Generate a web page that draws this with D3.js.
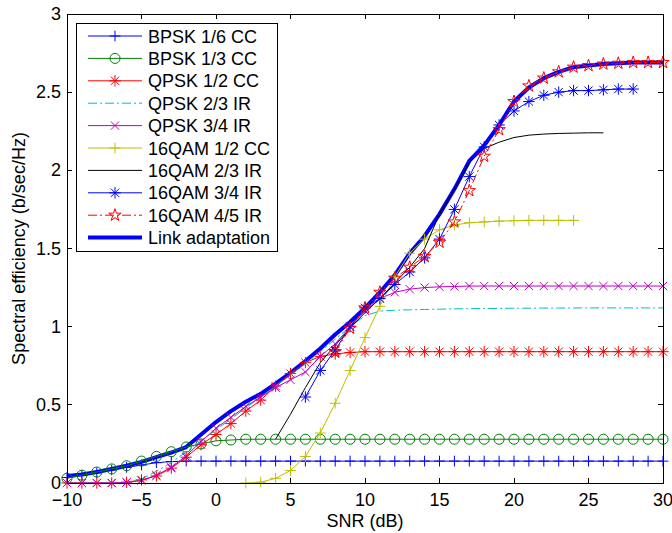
<!DOCTYPE html>
<html>
<head>
<meta charset="utf-8">
<script src="https://cdn.jsdelivr.net/npm/d3@7"></script>
<style>
  body { margin: 0; background: #fff; }
  text { font-family: "Liberation Sans", Arial, sans-serif; }
</style>
</head>
<body>
<div id="chart"></div>
<script>
// SNR grids
const snrAll = [-10,-9,-8,-7,-6,-5,-4,-3,-2,-1,0,1,2,3,4,5,6,7,8,9,10,11,12,13,14,15,16,17,18,19,20,21,22,23,24,25,26,27,28,29,30];
const snrQam12 = [2,3,4,5,6,7,8,9,10,11,12,13,14,15,16,17,18,19,20,21,22,23,24];
const snrQam23 = [4,5,6,7,8,9,10,11,12,13,14,15,16,17,18,19,20,21,22,23,24,25,26];
const snrQam34 = [6,7,8,9,10,11,12,13,14,15,16,17,18,19,20,21,22,23,24,25,26,27,28];
const snrQam45 = [8,9,10,11,12,13,14,15,16,17,18,19,20,21,22,23,24,25,26,27,28,29,30];

// spectral efficiency (b/sec/Hz)
const bpsk16 = [0.035,0.05,0.065,0.083,0.1,0.115,0.13,0.137,0.14,0.14,0.14,0.14,0.14,0.14,0.14,0.14,0.14,0.14,0.14,0.14,0.14,0.14,0.14,0.14,0.14,0.14,0.14,0.14,0.14,0.14,0.14,0.14,0.14,0.14,0.14,0.14,0.14,0.14,0.14,0.14,0.14];
const bpsk13 = [0.03,0.05,0.07,0.09,0.11,0.14,0.17,0.2,0.23,0.25,0.27,0.275,0.28,0.28,0.28,0.28,0.28,0.28,0.28,0.28,0.28,0.28,0.28,0.28,0.28,0.28,0.28,0.28,0.28,0.28,0.28,0.28,0.28,0.28,0.28,0.28,0.28,0.28,0.28,0.28,0.28];
const qpsk12 = [0,0,0,0,0.005,0.02,0.045,0.095,0.165,0.245,0.31,0.38,0.46,0.53,0.62,0.7,0.77,0.81,0.825,0.835,0.84,0.84,0.84,0.84,0.84,0.84,0.84,0.84,0.84,0.84,0.84,0.84,0.84,0.84,0.84,0.84,0.84,0.84,0.84,0.84,0.84];
const qpsk23 = [0,0,0,0,0.005,0.025,0.075,0.13,0.2,0.27,0.34,0.41,0.48,0.55,0.62,0.69,0.76,0.84,0.92,1.0,1.07,1.1,1.105,1.108,1.11,1.112,1.114,1.115,1.116,1.117,1.118,1.118,1.119,1.119,1.12,1.12,1.12,1.12,1.12,1.12,1.12];
const qpsk34 = [0,0,0,0,0.003,0.015,0.05,0.1,0.175,0.265,0.35,0.42,0.49,0.55,0.61,0.66,0.71,0.81,0.89,1.0,1.1,1.18,1.22,1.24,1.25,1.255,1.257,1.26,1.26,1.26,1.26,1.26,1.26,1.26,1.26,1.26,1.26,1.26,1.26,1.26,1.26];
const qam12 = [0,0.005,0.03,0.08,0.17,0.32,0.51,0.72,0.93,1.13,1.32,1.47,1.56,1.62,1.65,1.665,1.67,1.675,1.678,1.68,1.68,1.68,1.68];
const qam23 = [0.28,0.44,0.61,0.77,0.88,0.99,1.09,1.18,1.28,1.38,1.5,1.72,1.88,2.05,2.14,2.18,2.21,2.225,2.232,2.236,2.238,2.24,2.24];
const qam34 = [0.55,0.72,0.85,1.0,1.12,1.18,1.27,1.35,1.44,1.56,1.75,1.96,2.15,2.29,2.38,2.44,2.48,2.5,2.51,2.51,2.515,2.52,2.52];
const qam45 = [0.84,0.99,1.12,1.22,1.31,1.38,1.45,1.54,1.67,1.87,2.09,2.26,2.44,2.54,2.59,2.63,2.66,2.67,2.68,2.685,2.69,2.69,2.69];
const linkAdapt = [0.045,0.055,0.07,0.09,0.11,0.135,0.165,0.195,0.23,0.31,0.39,0.46,0.52,0.57,0.635,0.705,0.78,0.86,0.95,1.03,1.12,1.22,1.33,1.47,1.58,1.72,1.88,2.06,2.16,2.29,2.44,2.53,2.59,2.63,2.66,2.67,2.68,2.685,2.69,2.69,2.69];

const xTicks = [-10,-5,0,5,10,15,20,25,30];
const yTicks = [0,0.5,1,1.5,2,2.5,3];

// 8-armed MATLAB style asterisk
const symbolStar8 = {
  draw(ctx, size) {
    const r = Math.sqrt(size) / 2;
    const d = r * 0.72;
    ctx.moveTo(0, -r); ctx.lineTo(0, r);
    ctx.moveTo(-r, 0); ctx.lineTo(r, 0);
    ctx.moveTo(-d, -d); ctx.lineTo(d, d);
    ctx.moveTo(-d, d); ctx.lineTo(d, -d);
  }
};

const series = [
  { name: "BPSK 1/6 CC", x: snrAll, y: bpsk16, color: "#0000ff", marker: d3.symbolPlus, size: 40 },
  { name: "BPSK 1/3 CC", x: snrAll, y: bpsk13, color: "#008000", marker: d3.symbolCircle, size: 80 },
  { name: "QPSK 1/2 CC", x: snrAll, y: qpsk12, color: "#ff0000", marker: symbolStar8, size: 130 },
  { name: "QPSK 2/3 IR", x: snrAll, y: qpsk23, color: "#00bfbf", dash: "9,3,2,3" },
  { name: "QPSK 3/4 IR", x: snrAll, y: qpsk34, color: "#bf00bf", marker: d3.symbolTimes, size: 46 },
  { name: "16QAM 1/2 CC", x: snrQam12, y: qam12, color: "#bfbf00", marker: d3.symbolPlus, size: 40 },
  { name: "16QAM 2/3 IR", x: snrQam23, y: qam23, color: "#000000" },
  { name: "16QAM 3/4 IR", x: snrQam34, y: qam34, color: "#0000ff", marker: symbolStar8, size: 130 },
  { name: "16QAM 4/5 IR", x: snrQam45, y: qam45, color: "#ff0000", marker: d3.symbolStar, size: 48, dash: "9,3,2,3" },
  { name: "Link adaptation", x: snrAll, y: linkAdapt, color: "#0000ff", width: 4 }
];

const width = 672, height = 533;
const margin = { top: 14, right: 9, bottom: 50, left: 67 };
const fontSize = "18px";

const svg = d3.select("#chart").append("svg")
  .attr("width", width)
  .attr("height", height);

const x = d3.scaleLinear().domain([-10, 30]).range([margin.left, width - margin.right]);
const y = d3.scaleLinear().domain([0, 3]).range([height - margin.bottom, margin.top]);

svg.append("clipPath").attr("id", "plotclip")
  .append("rect")
  .attr("x", margin.left - 8).attr("y", margin.top - 8)
  .attr("width", width - margin.left - margin.right + 16)
  .attr("height", height - margin.top - margin.bottom + 16);

const plot = svg.append("g").attr("clip-path", "url(#plotclip)");

const line = d3.line().x(d => x(d[0])).y(d => y(d[1]));

// link adaptation sits underneath the other curves
const order = [9, 0, 1, 2, 3, 4, 5, 6, 7, 8];
order.forEach(k => {
  const s = series[k];
  const pts = s.x.map((v, i) => [v, s.y[i]]);
  plot.append("path")
    .datum(pts)
    .attr("d", line)
    .attr("fill", "none")
    .attr("stroke", s.color)
    .attr("stroke-width", s.width || 1)
    .attr("stroke-dasharray", s.dash || null)
    .attr("stroke-linejoin", "round");
  if (s.marker) {
    plot.append("g").selectAll("path")
      .data(pts)
      .enter().append("path")
      .attr("transform", d => `translate(${x(d[0])},${y(d[1])})`)
      .attr("d", d3.symbol().type(s.marker).size(s.size))
      .attr("fill", "none")
      .attr("stroke", s.color)
      .attr("stroke-width", 1);
  }
});

// axes box with inward ticks
const axes = svg.append("g");
const x0 = x.range()[0], x1 = x.range()[1], y0 = y.range()[0], y1 = y.range()[1];
axes.append("rect")
  .attr("x", x0).attr("y", y1)
  .attr("width", x1 - x0).attr("height", y0 - y1)
  .attr("fill", "none").attr("stroke", "#000").attr("stroke-width", 1)
  .attr("shape-rendering", "crispEdges");

const tickLen = 5;
xTicks.forEach(t => {
  axes.append("line").attr("x1", x(t)).attr("x2", x(t)).attr("y1", y0).attr("y2", y0 - tickLen)
    .attr("stroke", "#000").attr("shape-rendering", "crispEdges");
  axes.append("line").attr("x1", x(t)).attr("x2", x(t)).attr("y1", y1).attr("y2", y1 + tickLen)
    .attr("stroke", "#000").attr("shape-rendering", "crispEdges");
  axes.append("text")
    .attr("x", x(t)).attr("y", y0 + 23)
    .attr("text-anchor", "middle")
    .style("font-size", fontSize)
    .text(t < 0 ? "\u2212" + Math.abs(t) : t);
});
yTicks.forEach(t => {
  axes.append("line").attr("x1", x0).attr("x2", x0 + tickLen).attr("y1", y(t)).attr("y2", y(t))
    .attr("stroke", "#000").attr("shape-rendering", "crispEdges");
  axes.append("line").attr("x1", x1).attr("x2", x1 - tickLen).attr("y1", y(t)).attr("y2", y(t))
    .attr("stroke", "#000").attr("shape-rendering", "crispEdges");
  axes.append("text")
    .attr("x", x0 - 6).attr("y", y(t) + 6)
    .attr("text-anchor", "end")
    .style("font-size", fontSize)
    .text(t);
});

svg.append("text")
  .attr("x", (x0 + x1) / 2).attr("y", 527)
  .attr("text-anchor", "middle")
  .style("font-size", fontSize)
  .text("SNR (dB)");

svg.append("text")
  .attr("transform", `translate(25,${(y0 + y1) / 2}) rotate(-90)`)
  .attr("text-anchor", "middle")
  .style("font-size", fontSize)
  .text("Spectral efficiency (b/sec/Hz)");

// legend
const lg = svg.append("g");
lg.append("rect")
  .attr("x", 76).attr("y", 23).attr("width", 201).attr("height", 228)
  .attr("fill", "#fff").attr("stroke", "#000").attr("stroke-width", 1)
  .attr("shape-rendering", "crispEdges");

series.forEach((s, i) => {
  const cy = 36 + i * 22.4;
  lg.append("line")
    .attr("x1", 88).attr("x2", 142).attr("y1", cy).attr("y2", cy)
    .attr("stroke", s.color)
    .attr("stroke-width", s.width || 1)
    .attr("stroke-dasharray", s.dash || null);
  if (s.marker) {
    lg.append("path")
      .attr("transform", `translate(115,${cy})`)
      .attr("d", d3.symbol().type(s.marker).size(s.size))
      .attr("fill", "none")
      .attr("stroke", s.color);
  }
  lg.append("text")
    .attr("x", 148).attr("y", cy + 6.5)
    .style("font-size", fontSize)
    .text(s.name);
});
</script>
</body>
</html>
